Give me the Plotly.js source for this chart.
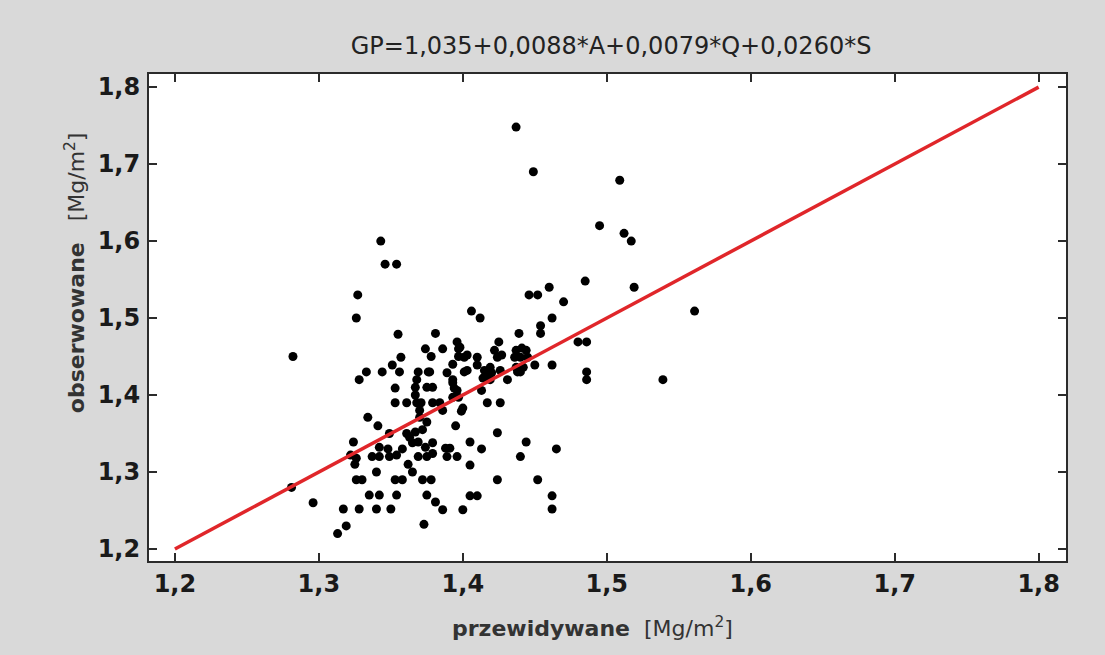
<!DOCTYPE html>
<html>
<head>
<meta charset="utf-8">
<script src="https://cdn.plot.ly/plotly-3.0.1.min.js"></script>
<style>
html,body{margin:0;padding:0;background:#d9d9d9;}
#chart{width:1105px;height:655px;}
</style>
</head>
<body>
<div id="chart"></div>
<script>
// predicted values (przewidywane)
const predicted = [
1.282,1.281,1.296,1.313,1.319,1.317,1.328,1.340,1.350,1.327,
1.326,1.343,1.346,1.354,1.355,1.357,1.351,1.356,1.344,1.333,
1.328,1.368,1.353,1.353,1.361,1.368,1.374,1.369,1.367,1.375,
1.376,1.367,1.371,1.370,1.334,1.341,1.324,1.349,1.342,1.348,
1.337,1.342,1.349,1.354,1.358,1.363,1.365,1.361,1.367,1.372,
1.370,1.375,1.369,1.374,1.369,1.375,1.325,1.322,1.326,1.362,
1.365,1.340,1.326,1.330,1.353,1.358,1.372,1.335,1.342,1.354,
1.375,1.373,1.381,1.386,1.378,
1.381,1.386,1.396,1.397,1.397,1.401,1.378,1.406,1.412,1.425,
1.422,1.424,1.427,1.437,1.444,1.436,1.440,1.445,1.450,1.462,
1.377,1.393,1.389,1.393,1.394,1.401,1.419,1.417,1.419,1.410,
1.410,1.426,1.431,1.438,1.379,1.393,1.397,1.400,1.379,1.384,
1.398,1.403,1.393,1.396,1.403,1.415,1.420,1.414,1.413,1.386,
1.399,1.417,1.426,1.395,1.424,1.405,1.413,1.444,1.440,1.465,
1.405,1.424,1.452,1.405,1.410,1.462,1.462,1.400,1.379,1.379,
1.388,1.391,1.396,1.389,
1.485,1.460,1.446,1.452,1.519,1.470,1.462,1.454,1.454,1.439,
1.561,1.441,1.437,1.440,1.442,1.480,1.486,1.486,1.486,1.539,
1.437,1.449,1.509,1.495,1.512,1.517
];
// observed values (obserwowane)
const observed = [
1.450,1.280,1.260,1.220,1.230,1.252,1.252,1.252,1.252,1.530,
1.500,1.600,1.570,1.570,1.479,1.449,1.439,1.430,1.430,1.430,
1.420,1.420,1.409,1.390,1.390,1.390,1.460,1.430,1.410,1.410,
1.430,1.400,1.390,1.380,1.371,1.360,1.339,1.350,1.332,1.330,
1.320,1.320,1.320,1.322,1.330,1.345,1.338,1.350,1.352,1.355,
1.371,1.365,1.339,1.332,1.320,1.320,1.310,1.322,1.318,1.310,
1.300,1.300,1.290,1.290,1.290,1.290,1.290,1.270,1.270,1.270,
1.270,1.232,1.261,1.251,1.290,
1.480,1.460,1.469,1.460,1.450,1.449,1.450,1.509,1.500,1.469,
1.458,1.449,1.452,1.458,1.458,1.449,1.449,1.449,1.439,1.439,
1.430,1.440,1.429,1.420,1.409,1.430,1.436,1.426,1.420,1.449,
1.439,1.432,1.420,1.430,1.410,1.397,1.397,1.383,1.390,1.390,
1.462,1.452,1.416,1.406,1.432,1.432,1.429,1.422,1.406,1.380,
1.379,1.390,1.390,1.360,1.351,1.339,1.330,1.339,1.320,1.330,
1.309,1.290,1.290,1.269,1.269,1.269,1.252,1.251,1.338,1.324,
1.331,1.331,1.320,1.320,
1.548,1.540,1.530,1.530,1.540,1.521,1.500,1.490,1.480,1.480,
1.509,1.461,1.436,1.430,1.436,1.469,1.469,1.430,1.420,1.420,
1.748,1.690,1.679,1.620,1.610,1.600
];
// regression line y = x
const lineX = [1.2, 1.8];
const lineY = [1.2, 1.8];
const tickVals = [1.2, 1.3, 1.4, 1.5, 1.6, 1.7, 1.8];
const titleText = "GP=1,035+0,0088*A+0,0079*Q+0,0260*S";
const xTitle = "<b>przewidywane</b>  [Mg/m<sup>2</sup>]";
const yTitle = "<b>obserwowane</b>   [Mg/m<sup>2</sup>]";

const FONT = 'DejaVu Sans, Arial, sans-serif';

const traces = [
  {x: predicted, y: observed, mode: 'markers', type: 'scatter',
   marker: {color: '#000000', size: 9}, hoverinfo: 'x+y'},
  {x: lineX, y: lineY, mode: 'lines', type: 'scatter',
   line: {color: '#e0262a', width: 3.5}}
];

const axisCommon = {
  showline: true, linecolor: '#2b2b2b', linewidth: 2, mirror: 'ticks',
  ticks: 'inside', ticklen: 8, tickwidth: 2, tickcolor: '#2b2b2b',
  showgrid: false, zeroline: false,
  tickvals: tickVals,
  tickformat: '.1f',
  tickfont: {family: FONT, size: 24, color: '#1a1a1a', weight: 'bold'}
};

const layout = {
  width: 1105, height: 655,
  paper_bgcolor: '#d9d9d9', plot_bgcolor: '#ffffff',
  separators: ', ',
  showlegend: false,
  margin: {l: 149, r: 39, t: 74, b: 94},
  title: {text: titleText, x: 0.553, xanchor: 'center', y: 0.931, yanchor: 'middle',
          font: {family: FONT, size: 24, color: '#222222'}},
  xaxis: Object.assign({}, axisCommon, {range: [1.182, 1.819]}),
  yaxis: Object.assign({}, axisCommon, {range: [1.1844, 1.817], ticklabelstandoff: 2}),
  annotations: [
    {text: xTitle, xref: 'paper', yref: 'paper', x: 0.484, y: -0.1355,
     xanchor: 'center', yanchor: 'middle', showarrow: false,
     font: {family: FONT, size: 22, color: '#333333'}},
    {text: yTitle, xref: 'paper', yref: 'paper', x: -0.0807, y: 0.593,
     xanchor: 'center', yanchor: 'middle', showarrow: false, textangle: -90,
     font: {family: FONT, size: 22, color: '#333333'}}
  ]
};

Plotly.newPlot('chart', traces, layout, {displayModeBar: false, staticPlot: true});
</script>
</body>
</html>
